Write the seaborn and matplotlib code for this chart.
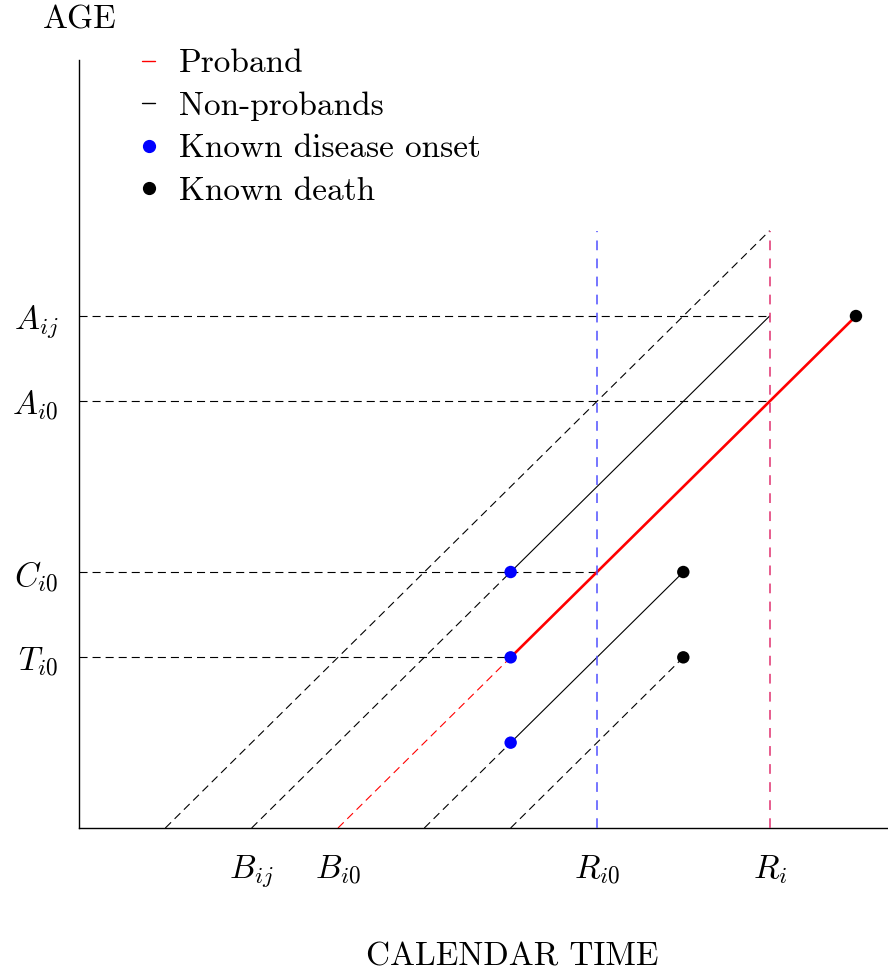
import numpy as np
import matplotlib.pyplot as plt
import seaborn as sns
from matplotlib.lines import Line2D

# Lexis diagram data (calendar time on x, age on y)
# birth time of each family member, the life line starts there at age 0
birth = [1, 2, 3, 4, 5]
# age where the observed (solid) part of the line begins
solid_from = [7, 3, 2, 1, 2]
# age where the line ends
end_age = [7, 6, 6, 3, 2]
is_proband = [False, False, True, False, False]
onset_age = [np.nan, 3, 2, 1, np.nan]
death_age = [np.nan, np.nan, 6, 3, 2]

# reference ages on the y axis
ref_ages = [6, 5, 3, 2]
ref_labels = [r"$A_{ij}$", r"$A_{i0}$", r"$C_{i0}$", r"$T_{i0}$"]
ref_until = [8, 8, 6, 5]

# calendar time marks
x_ticks = [2, 3, 6, 8]
x_labels = [r"$B_{ij}$", r"$B_{i0}$", r"$R_{i0}$", r"$R_i$"]
cut_times = [6, 8]
cut_colors = ["#5050ff", "#e0306f"]
cut_top = 7

sns.set_theme(style="white")
plt.rcParams["font.family"] = ["cmr10", "DejaVu Serif"]
plt.rcParams["mathtext.fontset"] = "cm"
plt.rcParams["axes.formatter.use_mathtext"] = True
plt.rcParams["lines.scale_dashes"] = False
plt.rcParams["text.color"] = "black"
plt.rcParams["xtick.color"] = "black"
plt.rcParams["ytick.color"] = "black"

dash = (0, (5.8, 3.6))
vdash = (0, (7.0, 6.0))
fs = 24

fig = plt.figure(figsize=(8.88, 9.71), dpi=100)
ax = fig.add_axes([79 / 888, 143 / 971, 809 / 888, 768 / 971])

# reference lines
ax.hlines(ref_ages, 0, ref_until, colors="black", lw=0.8, linestyles=dash)
for t, c in zip(cut_times, cut_colors):
    ax.vlines(t, 0, cut_top, colors=c, lw=1.1, linestyles=vdash, zorder=3)

# life lines
for b, s, e, p in zip(birth, solid_from, end_age, is_proband):
    col = "red" if p else "black"
    ax.plot([b, b + s], [0, s], color=col, lw=0.8, ls=dash)
    if e > s:
        ax.plot([b + s, b + e], [s, e], color=col, lw=1.9 if p else 0.8)

birth_arr = np.array(birth)
sns.scatterplot(x=birth_arr + np.array(onset_age), y=onset_age, color="blue",
                s=80, edgecolor="none", zorder=5, ax=ax)
sns.scatterplot(x=birth_arr + np.array(death_age), y=death_age, color="black",
                s=80, edgecolor="none", zorder=5, ax=ax)

ax.set_xlim(0, 809 / 86.33)
ax.set_ylim(0, 768 / 85.33)
ax.set_xticks(x_ticks)
ax.set_xticklabels(x_labels, fontsize=fs)
ax.set_yticks(ref_ages)
ax.set_yticklabels(ref_labels, fontsize=fs)
ax.tick_params(length=0)
ax.tick_params(axis="x", pad=18)
ax.tick_params(axis="y", pad=15)
sns.despine(ax=ax)
for sp in ["left", "bottom"]:
    ax.spines[sp].set_color("black")
    ax.spines[sp].set_linewidth(1.0)

fig.text(80 / 888, 1 - 20 / 971, "AGE", ha="center", va="center", fontsize=fs)
fig.text(512 / 888, 1 - 957 / 971, "CALENDAR TIME", ha="center", va="center",
         fontsize=fs)

handles = [
    Line2D([], [], color="red", lw=1.0),
    Line2D([], [], color="black", lw=1.0),
    Line2D([], [], color="blue", marker="o", ls="none", markersize=8.5),
    Line2D([], [], color="black", marker="o", ls="none", markersize=8.5),
]
labels = ["Proband", "Non-probands", "Known disease onset", "Known death"]
fig.legend(handles, labels, loc="upper left",
           bbox_to_anchor=(142 / 888, 1 - 49 / 971), frameon=False,
           fontsize=fs, handlelength=0.4, handletextpad=0.72,
           labelspacing=0.39, borderpad=0, borderaxespad=0)

fig.savefig("out.png", dpi=100)
